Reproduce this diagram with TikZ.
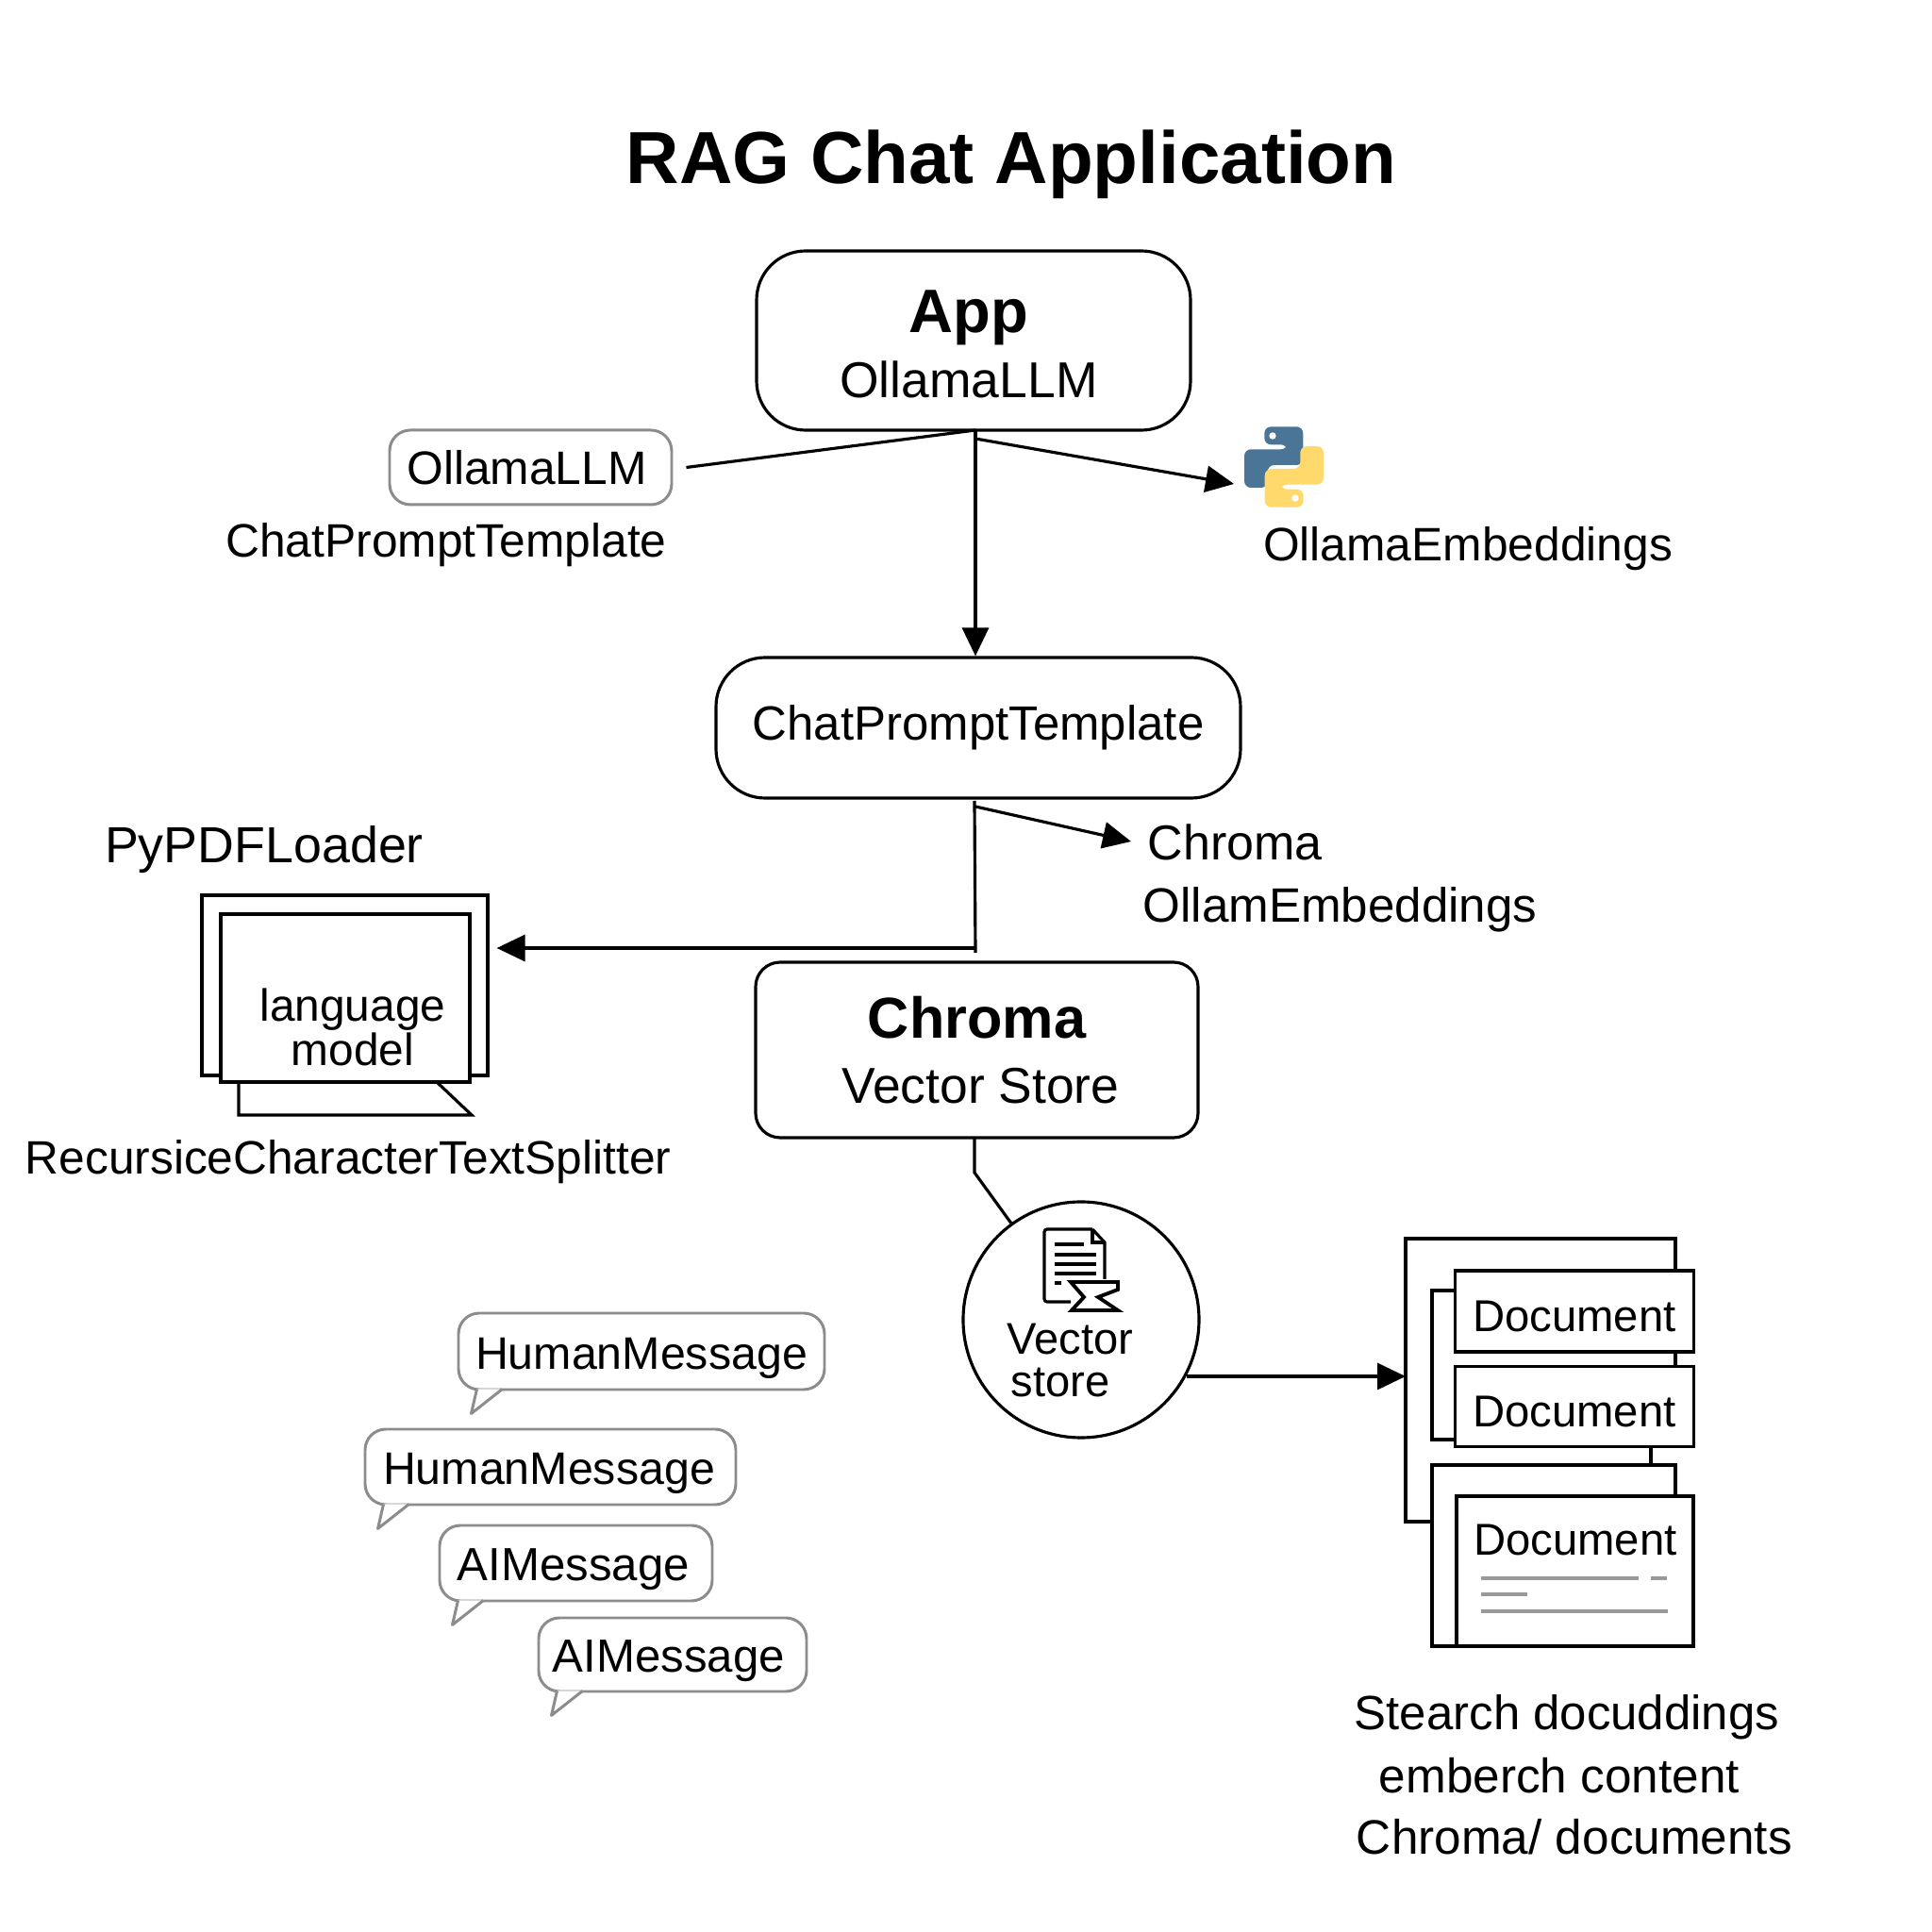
\documentclass[tikz,border=0pt]{standalone}
\usepackage{fontspec}
\setmainfont{Liberation Sans}
\usepackage{tikz}
\usetikzlibrary{arrows.meta,calc,positioning}
\definecolor{pyblue}{HTML}{4A7597}
\definecolor{pyyellow}{HTML}{FFD96B}
\begin{document}
\begin{tikzpicture}[line width=.9pt,inner sep=0pt,
  arrowline/.style={-{Triangle[length=.30cm,width=.28cm]}},
  roundbox/.style={draw,rounded corners=.52cm,align=center},
  tagbox/.style={draw=black!45,rounded corners=.22cm,line width=.85pt},
  msgbox/.style={tagbox,text height=13.4pt},
  msgline/.style={draw=black!45,line width=.85pt,line join=round},
  docbox/.style={draw,fill=white,minimum width=2.53cm},
  graybar/.style={draw=black!40,line width=.95pt},
  big/.style={font=\fontsize{15.2}{19.5}\selectfont},
  mid/.style={font=\fontsize{14.15}{17}\selectfont},
  small/.style={font=\fontsize{13.45}{13.6}\selectfont},
  msg/.style={font=\fontsize{13.75}{13.6}\selectfont}]
\useasboundingbox (0,0) rectangle (20.48,20.48);

\node[font=\fontsize{22.25}{26}\selectfont\bfseries] (title) at (10.72,18.74) {RAG Chat Application};

\node[roundbox,big,minimum width=4.60cm,minimum height=1.90cm] (app) at (10.32,16.87)
  {{\fontsize{18.5}{20}\selectfont\bfseries\rule{0pt}{15pt}App}\hspace*{.1cm}\\OllamaLLM\hspace*{.1cm}};
\node[tagbox,mid,minimum width=2.99cm,minimum height=.79cm] (llmtag) at (5.625,15.525) {OllamaLLM\hspace*{.08cm}};
\node[mid] (promptlabel) at (4.73,14.70) {ChatPromptTemplate};
\node[mid] (embedlabel) at (15.56,14.66) {OllamaEmbeddings};
\node[roundbox,font=\fontsize{14.5}{17}\selectfont,minimum width=5.56cm,minimum height=1.49cm] (prompt) at (10.37,12.765) {ChatPromptTemplate};

\coordinate (appout) at (10.34,15.92);
\coordinate (pyout) at (10.34,15.83);
\coordinate (pyin) at (13.08,15.35);
\draw (appout) -- ([xshift=.14cm]llmtag.east);
\draw[arrowline] (pyout) -- (pyin);
\draw[arrowline] (appout) -- (appout |- prompt.north);

% python logo
\begin{scope}[shift={(13.61,15.53)}]
\fill[pyblue,rounded corners=.07cm] (-.207,.237) -- (-.207,.427) -- (.203,.427) -- (.203,.02) -- (-.173,.02) -- (-.173,-.22) -- (-.42,-.22) -- (-.42,.187) -- (.037,.187) -- (.037,.237) -- cycle;
\fill[white] (-.12,.33) circle (.037);
\begin{scope}[rotate=180]
\fill[pyyellow,rounded corners=.07cm] (-.207,.237) -- (-.207,.427) -- (.203,.427) -- (.203,.02) -- (-.173,.02) -- (-.173,-.22) -- (-.42,-.22) -- (-.42,.187) -- (.037,.187) -- (.037,.237) -- cycle;
\fill[white] (-.12,.33) circle (.037);
\end{scope}
\end{scope}

\node[anchor=west,font=\fontsize{14.8}{17}\selectfont] (chromalabel) at (12.15,11.55) {Chroma};
\node[anchor=west,font=\fontsize{14.55}{17}\selectfont] (ollamlabel) at (12.10,10.84) {OllamEmbeddings};
\node[font=\fontsize{15.3}{18}\selectfont] (pdflabel) at (2.80,11.47) {PyPDFLoader};

\draw (2.53,9.01) -- (2.53,8.66) -- (5.00,8.66) -- (4.63,9.01);
\node[draw,minimum width=3.03cm,minimum height=1.91cm] (monitor) at (3.655,10.035) {};
\node[draw,fill=white,minimum width=2.64cm,minimum height=1.78cm] (screen) at (3.66,9.90) {};
\node[align=center,font=\fontsize{13.6}{13.6}\selectfont] (langtext) at (3.74,9.59) {language\\model};
\node[font=\fontsize{14.13}{17}\selectfont] (splitterlabel) at (3.69,8.16) {RecursiceCharacterTextSplitter};

\coordinate (promptout) at (10.33,11.99);
\coordinate (chromaout) at (10.34,11.93);
\coordinate (chromain) at (11.99,11.56);
\coordinate (turn) at (10.34,10.43);
\coordinate (downend) at (10.34,10.38);
\draw (promptout) -- (downend);
\draw[arrowline] (chromaout) -- (chromain);
\draw[arrowline] (turn) -- ([xshift=.08cm]turn -| monitor.east);

\node[draw,rounded corners=.26cm,align=center,big,minimum width=4.69cm,minimum height=1.86cm] (chroma) at (10.355,9.35)
  {{\fontsize{17.4}{20}\selectfont\bfseries Chroma}\\\hspace*{.08cm}Vector Store};
\node[draw,circle,minimum size=2.50cm] (store) at (11.46,6.49) {};
\coordinate (chromadown) at (10.33,8.42);
\coordinate (bend) at (10.33,8.05);
\draw (chromadown) -- (bend) -- (store);

% sheet icon
\draw[rounded corners=.03cm] (11.35,6.68) -- (11.07,6.68) -- (11.07,7.45) -- (11.58,7.45);
\draw (11.58,7.45) -- (11.71,7.31) -- (11.71,6.92);
\draw (11.58,7.45) -- (11.58,7.31) -- (11.71,7.31);
\draw[line width=1.2pt] (11.18,7.29) -- (11.49,7.29);
\draw[line width=1.2pt] (11.18,7.18) -- (11.62,7.18);
\draw[line width=1.2pt] (11.18,7.08) -- (11.62,7.08);
\draw[line width=1.2pt] (11.18,6.98) -- (11.62,6.98);
\draw[line width=1.2pt] (11.18,6.88) -- (11.25,6.88);
\draw[fill=white,line width=1.1pt] (11.35,6.89) -- (11.85,6.89) -- (11.85,6.81) -- (11.64,6.73) -- (11.85,6.59) -- (11.36,6.59) -- (11.49,6.73) -- cycle;
\node[anchor=west,align=left,font=\fontsize{13.4}{12.8}\selectfont] (storetext) at (10.66,6.06) {Vector\\\hspace*{.04cm}store};

% document stack
\coordinate (storeout) at (12.58,5.89);
\coordinate (stackin) at (14.90,5.89);
\draw[arrowline] (storeout) -- (stackin);
\draw (15.18,4.35) -- (14.90,4.35) -- (14.90,7.35) -- (17.76,7.35) -- (17.76,6.00);
\draw (15.42,6.80) -- (15.18,6.80) -- (15.18,5.22) -- (15.42,5.22);
\node[docbox,small,text height=12.1pt,minimum height=.86cm] (doca) at (16.69,6.58) {Document};
\node[docbox,small,text height=12.1pt,minimum height=.85cm] (docb) at (16.69,5.57) {Document};
\node[draw,fill=white,minimum width=2.58cm,minimum height=1.92cm] (backsheet) at (16.47,3.99) {};
\node[docbox,minimum width=2.51cm,minimum height=1.59cm] (docc) at (16.695,3.825) {};
\node[small] (docctext) at (16.70,4.16) {Document};
\draw (17.50,5.15) -- (17.50,4.95);
\draw[graybar] (15.70,3.75) -- (17.37,3.75);
\draw[graybar] (17.50,3.75) -- (17.67,3.75);
\draw[graybar] (15.70,3.58) -- (16.19,3.58);
\draw[graybar] (15.70,3.40) -- (17.68,3.40);

\node[font=\fontsize{14.5}{17}\selectfont] (searcha) at (16.61,2.28) {Stearch docuddings};
\node[font=\fontsize{14.6}{17}\selectfont] (searchb) at (16.53,1.66) {emberch content};
\node[font=\fontsize{14.6}{17}\selectfont] (searchc) at (16.69,1.01) {Chroma/ documents};

% message bubbles
\node[msgbox,draw=black!45,msg,minimum width=3.88cm,minimum height=.81cm] (humana) at (6.80,6.155) {HumanMessage};
\node[msgbox,draw=black!45,msg,minimum width=3.93cm,minimum height=.80cm] (humanb) at (5.835,4.93) {HumanMessage\hspace*{.03cm}};
\node[msgbox,draw=black!45,font=\fontsize{14}{14}\selectfont,minimum width=2.89cm,minimum height=.80cm] (aia) at (6.105,3.91) {AIMessage\hspace*{.05cm}};
\node[msgbox,draw=black!45,font=\fontsize{14}{14}\selectfont,minimum width=2.84cm,minimum height=.78cm] (aib) at (7.13,2.94) {AIMessage\hspace*{.08cm}};
\draw[msgline,fill=white] ($(humana.south west)+(.21,.02)$) -- ($(humana.south west)+(.15,-.24)$) -- ($(humana.south west)+(.48,.02)$);
\draw[msgline,fill=white] ($(humanb.south west)+(.21,.02)$) -- ($(humanb.south west)+(.15,-.24)$) -- ($(humanb.south west)+(.48,.02)$);
\draw[msgline,fill=white] ($(aia.south west)+(.21,.02)$) -- ($(aia.south west)+(.15,-.24)$) -- ($(aia.south west)+(.48,.02)$);
\draw[msgline,fill=white] ($(aib.south west)+(.21,.02)$) -- ($(aib.south west)+(.15,-.24)$) -- ($(aib.south west)+(.48,.02)$);
\end{tikzpicture}
\end{document}
